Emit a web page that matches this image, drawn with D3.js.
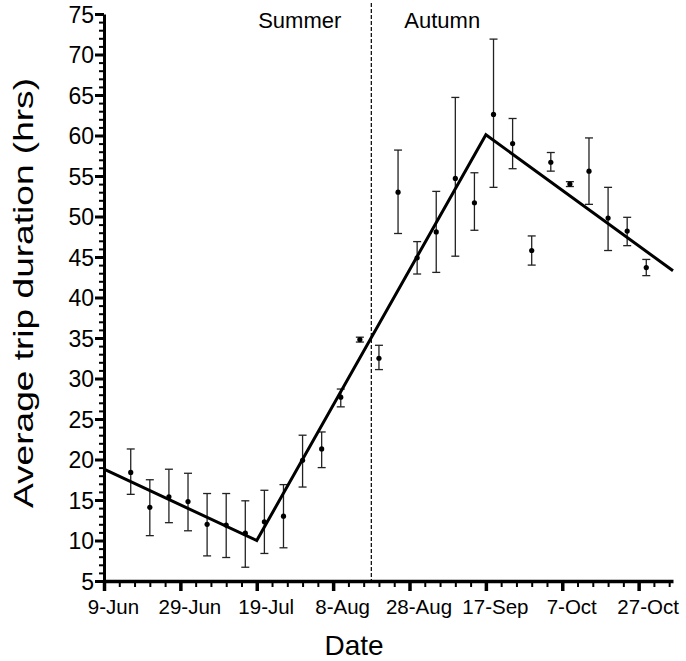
<!DOCTYPE html>
<html>
<head>
<meta charset="utf-8">
<script src="https://cdn.jsdelivr.net/npm/d3@7"></script>
<style>
  body { margin: 0; background: #fff; }
  svg { display: block; font-family: "Liberation Sans", Arial, Helvetica, sans-serif; }
  .axis path, .axis line { stroke: #000; }
  .axis text { fill: #000; }
</style>
</head>
<body>
<svg width="686" height="661"></svg>
<script>
// sampling dates and mean trip duration (hrs) with error bar bounds
var dates = ["2015-06-16", "2015-06-21", "2015-06-26", "2015-07-01", "2015-07-06", "2015-07-11",
             "2015-07-16", "2015-07-21", "2015-07-26", "2015-07-31", "2015-08-05", "2015-08-10",
             "2015-08-15", "2015-08-20", "2015-08-25", "2015-08-30", "2015-09-04", "2015-09-09",
             "2015-09-14", "2015-09-19", "2015-09-24", "2015-09-29", "2015-10-04", "2015-10-09",
             "2015-10-14", "2015-10-19", "2015-10-24", "2015-10-29"];
var means = [18.4, 14.1, 15.4, 14.8, 12.0, 11.9, 10.9, 12.3, 13.0, 19.9, 21.3, 27.7,
             34.8, 32.5, 53.0, 44.9, 48.1, 54.7, 51.7, 62.6, 59.0, 45.8, 56.7, 54.0,
             55.6, 49.8, 48.2, 43.7];
var upper = [21.3, 17.5, 18.8, 18.3, 15.8, 15.8, 14.9, 16.2, 16.9, 23.0, 23.4, 28.7,
             35.1, 34.1, 58.2, 46.9, 53.1, 64.7, 55.4, 71.9, 62.1, 47.6, 57.9, 54.3,
             59.7, 53.6, 49.9, 44.7];
var lower = [15.7, 10.6, 12.2, 11.2, 8.1, 7.9, 6.7, 8.4, 9.1, 16.6, 19.0, 26.5,
             34.5, 31.1, 47.9, 42.9, 43.1, 45.1, 48.3, 53.6, 55.9, 44.0, 55.6, 53.7,
             51.5, 45.8, 46.4, 42.7];

// segmented regression line
var fitDates = ["2015-06-09", "2015-07-19", "2015-09-17", "2015-11-05"];
var fitValues = [18.8, 10.0, 60.1, 43.3];

var seasonSplit = "2015-08-18";
var seasonLabels = ["Summer", "Autumn"];

var xTickDates = ["2015-06-09", "2015-06-29", "2015-07-19", "2015-08-08", "2015-08-28",
                  "2015-09-17", "2015-10-07", "2015-10-27"];
var xTickLabels = ["9-Jun", "29-Jun", "19-Jul", "8-Aug", "28-Aug", "17-Sep", "7-Oct", "27-Oct"];
var yTicks = [5, 10, 15, 20, 25, 30, 35, 40, 45, 50, 55, 60, 65, 70, 75];

var parse = d3.timeParse("%Y-%m-%d");

var svg = d3.select("svg"),
    plotLeft = 104, plotRight = 673, plotTop = 14, plotBottom = 581;

var x = d3.scaleTime()
    .domain([parse("2015-06-09"), parse("2015-11-05")])
    .range([plotLeft, plotRight]);
var y = d3.scaleLinear().domain([5, 75]).range([plotBottom, plotTop]);

var data = dates.map(function(d, i) {
    return {date: parse(d), mean: means[i], hi: upper[i], lo: lower[i]};
});

// minor y ticks
svg.append("g")
    .attr("class", "axis")
    .attr("transform", "translate(" + plotLeft + ",0)")
    .call(d3.axisLeft(y).tickValues(d3.range(5, 76, 1)).tickSize(5).tickFormat(""))
    .call(function(g) { g.select(".domain").remove(); })
    .selectAll("line").attr("stroke-width", 2);

// major y ticks
var yAxis = svg.append("g")
    .attr("class", "axis")
    .attr("transform", "translate(" + plotLeft + ",0)")
    .call(d3.axisLeft(y).tickValues(yTicks).tickSize(9).tickPadding(1).tickSizeOuter(0));
yAxis.select(".domain").attr("stroke-width", 3);
yAxis.selectAll("line").attr("stroke-width", 3);
yAxis.selectAll("text").attr("font-size", 23).attr("dy", "0.36em");

// minor x ticks
svg.append("g")
    .attr("class", "axis")
    .attr("transform", "translate(0," + plotBottom + ")")
    .call(d3.axisBottom(x).tickValues(d3.timeDay.range(parse("2015-06-09"), parse("2015-11-05"), 4))
        .tickSize(6).tickFormat(""))
    .call(function(g) { g.select(".domain").remove(); })
    .selectAll("line").attr("stroke-width", 2);

// major x ticks
var xAxis = svg.append("g")
    .attr("class", "axis")
    .attr("transform", "translate(0," + plotBottom + ")")
    .call(d3.axisBottom(x).tickValues(xTickDates.map(parse)).tickSize(10).tickPadding(8).tickSizeOuter(0)
        .tickFormat(function(d, i) { return xTickLabels[i]; }));
xAxis.select(".domain").attr("stroke-width", 3.5);
xAxis.selectAll("line").attr("stroke-width", 3.5);
xAxis.selectAll("text").attr("font-size", 20.5).attr("dx", 9);

// season divider
svg.append("line")
    .attr("x1", x(parse(seasonSplit))).attr("x2", x(parse(seasonSplit)))
    .attr("y1", 3).attr("y2", plotBottom)
    .attr("stroke", "#000")
    .attr("stroke-width", 1.2)
    .attr("stroke-dasharray", "4,2");

svg.append("text")
    .attr("x", x(parse(seasonSplit)) - 30).attr("y", 28)
    .attr("text-anchor", "end")
    .attr("font-size", 22)
    .text(seasonLabels[0]);
svg.append("text")
    .attr("x", x(parse(seasonSplit)) + 33).attr("y", 28)
    .attr("font-size", 22)
    .text(seasonLabels[1]);

// error bars
var bars = svg.append("g").attr("stroke", "#222").attr("stroke-width", 1.3);
bars.selectAll(".stem").data(data).enter().append("line")
    .attr("x1", function(d) { return x(d.date); })
    .attr("x2", function(d) { return x(d.date); })
    .attr("y1", function(d) { return y(d.hi); })
    .attr("y2", function(d) { return y(d.lo); });
bars.selectAll(".capHi").data(data).enter().append("line")
    .attr("x1", function(d) { return x(d.date) - 4; })
    .attr("x2", function(d) { return x(d.date) + 4; })
    .attr("y1", function(d) { return y(d.hi); })
    .attr("y2", function(d) { return y(d.hi); });
bars.selectAll(".capLo").data(data).enter().append("line")
    .attr("x1", function(d) { return x(d.date) - 4; })
    .attr("x2", function(d) { return x(d.date) + 4; })
    .attr("y1", function(d) { return y(d.lo); })
    .attr("y2", function(d) { return y(d.lo); });

// fitted line
var line = d3.line()
    .x(function(d) { return x(d[0]); })
    .y(function(d) { return y(d[1]); });
svg.append("path")
    .datum(fitDates.map(function(d, i) { return [parse(d), fitValues[i]]; }))
    .attr("fill", "none")
    .attr("stroke", "#000")
    .attr("stroke-width", 3)
    .attr("stroke-linejoin", "miter")
    .attr("d", line);

// means
svg.append("g").selectAll("circle").data(data).enter().append("circle")
    .attr("cx", function(d) { return x(d.date); })
    .attr("cy", function(d) { return y(d.mean); })
    .attr("r", 2.6)
    .attr("fill", "#000");

// axis titles
svg.append("text")
    .attr("transform", "translate(33,293) rotate(-90)")
    .attr("text-anchor", "middle")
    .attr("font-size", 27)
    .attr("textLength", 430)
    .attr("lengthAdjust", "spacingAndGlyphs")
    .text("Average trip duration (hrs)");

svg.append("text")
    .attr("x", 354).attr("y", 655)
    .attr("text-anchor", "middle")
    .attr("font-size", 28)
    .text("Date");
</script>
</body>
</html>
